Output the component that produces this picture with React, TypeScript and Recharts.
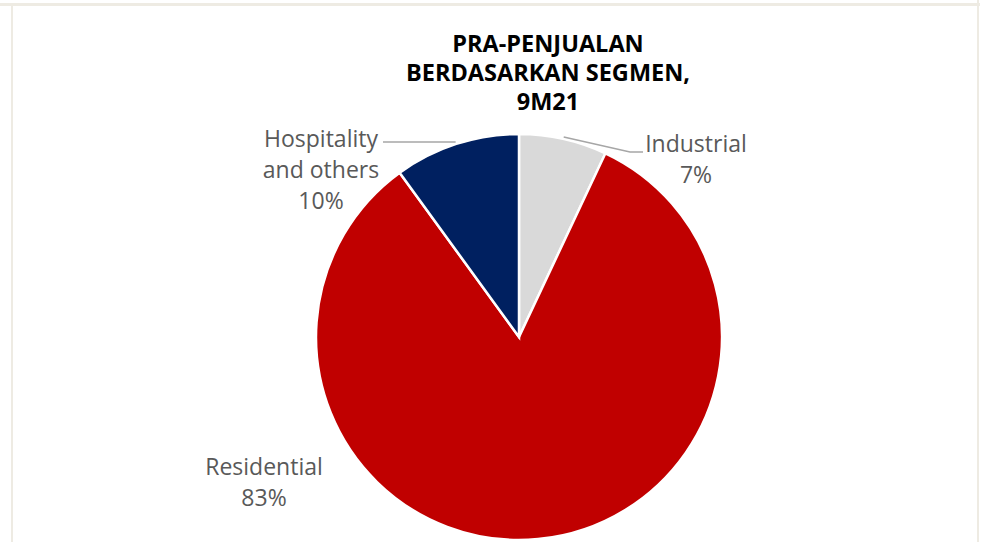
import { PieChart, Pie, Cell } from "recharts";

const segments = ["Industrial", "Residential", "Hospitality and others"];
const shares = [7, 83, 10];
const labelLines = [["Industrial"], ["Residential"], ["Hospitality", "and others"]];
const titleLines = ["PRA-PENJUALAN", "BERDASARKAN SEGMEN,", "9M21"];

const COLORS = ["#D9D9D9", "#C00000", "#002060"];
// label block anchor (first baseline) relative to pie centre, Excel-style hand placed labels
const LABEL_POS = [
  { dx: 177, dy: -185 },
  { dx: -255, dy: 138 },
  { dx: -198, dy: -190 },
];
const LEADER = [true, false, true];

const FONT = "'Segoe UI', 'Open Sans', 'Noto Sans', sans-serif";
const RADIAN = Math.PI / 180;

const data = segments.map((name, i) => ({ name, value: shares[i] }));

function renderLabel(props: any) {
  const { cx, cy, midAngle, outerRadius, index, percent } = props;
  const pos = LABEL_POS[index];
  const lx = cx + pos.dx;
  const ly = cy + pos.dy;
  const lines = [...labelLines[index], `${Math.round(percent * 100)}%`];
  let leader = null;
  if (LEADER[index]) {
    const r = outerRadius + 2;
    const sx = cx + r * Math.cos(-midAngle * RADIAN);
    const sy = cy + r * Math.sin(-midAngle * RADIAN);
    const right = pos.dx > 0;
    const endX = right ? lx - 53 : lx + 62;
    const endY = right ? ly : ly - 5;
    const kneeX = right ? endX - 13 : endX;
    leader = (
      <polyline
        points={`${sx},${sy} ${kneeX},${endY} ${endX},${endY}`}
        fill="none"
        stroke="#A6A6A6"
        strokeWidth={1.5}
      />
    );
  }
  return (
    <g key={`lbl-${index}`}>
      {leader}
      <text
        x={lx}
        y={ly}
        textAnchor="middle"
        fill="#595959"
        fontSize={23}
        fontFamily={FONT}
      >
        {lines.map((t, i) => (
          <tspan key={i} x={lx} dy={i === 0 ? 0 : 31}>
            {t}
          </tspan>
        ))}
      </text>
    </g>
  );
}

export default function App() {
  return (
    <div
      style={{
        position: "absolute",
        left: 0,
        top: 0,
        width: 983,
        height: 542,
        background: "#FFFFFF",
        overflow: "hidden",
      }}
    >
      {/* worksheet frame */}
      <div
        style={{
          position: "absolute",
          left: 0,
          top: 3,
          width: 980,
          height: 3,
          background: "#EEEBE3",
        }}
      />
      <div
        style={{
          position: "absolute",
          left: 11,
          top: 3,
          width: 2,
          height: 539,
          background: "#EEEBE3",
        }}
      />
      <div
        style={{
          position: "absolute",
          left: 977,
          top: 0,
          width: 2,
          height: 542,
          background: "#EEEBE3",
        }}
      />
      <div style={{ position: "absolute", left: 0, top: 0 }}>
        <PieChart width={983} height={542} margin={{ top: 0, right: 0, bottom: 0, left: 0 }}>
          <Pie
            data={data}
            dataKey="value"
            nameKey="name"
            cx={519}
            cy={337}
            outerRadius={203}
            startAngle={90}
            endAngle={-270}
            stroke="#FFFFFF"
            strokeWidth={2.5}
            label={renderLabel}
            labelLine={false}
            isAnimationActive={false}
          >
            {data.map((d, i) => (
              <Cell key={d.name} fill={COLORS[i]} />
            ))}
          </Pie>
        </PieChart>
      </div>
      <svg
        width={983}
        height={542}
        style={{ position: "absolute", left: 0, top: 0, pointerEvents: "none" }}
      >
        <text
          x={548}
          y={52}
          textAnchor="middle"
          fontFamily={FONT}
          fontWeight={700}
          fontSize={23.5}
          fill="#000000"
        >
          {titleLines.map((t, i) => (
            <tspan key={i} x={548} dy={i === 0 ? 0 : 29}>
              {t}
            </tspan>
          ))}
        </text>
      </svg>
    </div>
  );
}
